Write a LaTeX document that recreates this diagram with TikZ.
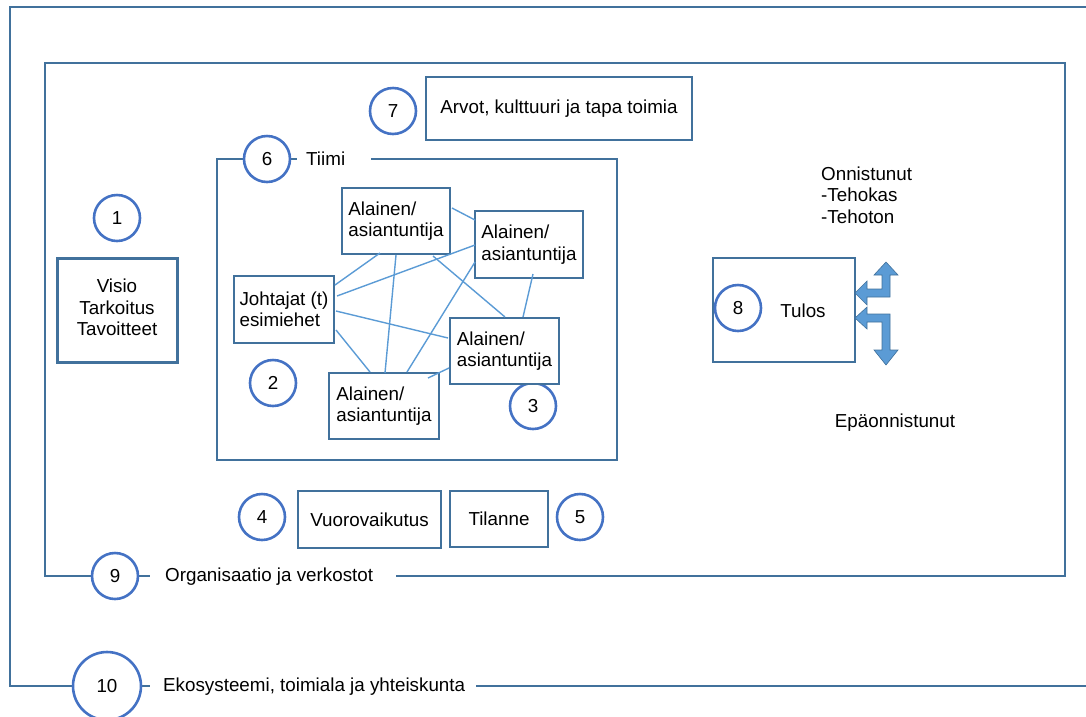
\documentclass[tikz,border=0pt]{standalone}
\usepackage{fontspec}
\setmainfont{Liberation Sans}
\definecolor{framec}{HTML}{41719C}
\definecolor{circc}{HTML}{4472C4}
\definecolor{netc}{HTML}{5B9BD5}
\definecolor{arrowf}{HTML}{5B9BD5}
\begin{document}
\begin{tikzpicture}[x=1pt,y=-1pt,
  font=\fontsize{18.8}{21.5}\selectfont,
  frame/.style={draw=framec, line width=2.8pt},
  numc/.style={circle, draw=circc, line width=2.6pt, fill=white, minimum size=46pt, inner sep=0pt},
  nbox/.style={draw=framec, line width=1.6pt, fill=white, inner sep=0pt, align=left},
  tbox/.style={draw=framec, line width=1.6pt, fill=white, inner sep=0pt, align=center},
  netline/.style={draw=netc, line width=1.4pt},
  bentarrow/.style={fill=arrowf, draw=framec, line width=0.6pt, line join=miter},
  plain/.style={inner sep=0pt}]
\useasboundingbox (0,0) rectangle (1086,716);

% frames
\draw[frame] (476,686) -- (1100,686);
\draw[frame] (1100,7) -- (10,7) -- (10,686) -- (150,686);
\draw[frame] (396,576) -- (1065,576) -- (1065,63) -- (45,63) -- (45,576) -- (150,576);
\draw[frame] (371,159) -- (617,159) -- (617,460) -- (217,460) -- (217,159) -- (297,159);

% numbered circles
\node[numc] (c1) at (117,218) {1};
\node[numc] (c2) at (273,383) {2};
\node[numc] (c3) at (533,406) {3};
\node[numc] (c4) at (262,517) {4};
\node[numc] (c5) at (580,517) {5};
\node[numc] (c6) at (267,159) {6};
\node[numc] (c7) at (393,111) {7};
\node[numc] (c9) at (115,576) {9};
\node[numc, minimum size=68pt] (c10) at (107,686) {10};

% labels on frames
\node[plain, anchor=west] (tiimi) at (306,159) {Tiimi};
\node[plain, anchor=west] (org) at (165,577) {Organisaatio ja verkostot};
\node[plain, anchor=west] (eko) at (163,687) {Ekosysteemi, toimiala ja yhteiskunta};

% boxes
\node[tbox, line width=3pt, minimum width=120pt, minimum height=104pt] (visio) at (117,310) {\raisebox{4pt}{\begin{tabular}{@{}c@{}}Visio\\Tarkoitus\\Tavoitteet\end{tabular}}};
\node[tbox, minimum width=266pt, minimum height=63pt] (arvot) at (559,108.5) {Arvot, kulttuuri ja tapa toimia};
\node[tbox, minimum width=143pt, minimum height=57pt] (vuoro) at (369.5,519.5) {Vuorovaikutus};
\node[tbox, minimum width=98pt, minimum height=56pt] (tilanne) at (499,519) {Tilanne};
\node[tbox, fill=none, line width=2.6pt, minimum width=142pt, minimum height=104pt] (tulos) at (784,310) {};
\node[plain] (tulostxt) at (803,311) {Tulos};
\node[numc] (c8) at (738,308) {8};

% team boxes
\node[nbox, minimum width=100pt, minimum height=67pt] (J) at (284,309.5) {Johtajat (t)\\esimiehet};
\node[nbox, minimum width=108pt, minimum height=66pt] (A1) at (396,221) {Alainen/\\asiantuntija};
\node[nbox, minimum width=108pt, minimum height=67pt] (A2) at (529,244.5) {Alainen/\\asiantuntija};
\node[nbox, minimum width=109pt, minimum height=66pt] (A3) at (504.5,351) {Alainen/\\asiantuntija};
\node[nbox, minimum width=110pt, minimum height=66pt] (A4) at (384,406) {Alainen/\\asiantuntija};

% network connectors
\draw[netline] ([shift={(56,-13)}]A1.center) -- ([shift={(-54,-24.5)}]A2.center);
\draw[netline] ([shift={(51,-24.5)}]J.center) -- ([shift={(-16,32)}]A1.center);
\draw[netline] ([shift={(53,-13.5)}]J.center) -- ([shift={(-54,0.5)}]A2.center);
\draw[netline] ([shift={(52,1.5)}]J.center) -- ([shift={(-56.5,-13)}]A3.center);
\draw[netline] ([shift={(52,20.5)}]J.center) -- ([shift={(-14,-34)}]A4.center);
\draw[netline] ([shift={(0,34)}]A1.center) -- ([shift={(1,-33)}]A4.center);
\draw[netline] ([shift={(37,35)}]A1.center) -- ([shift={(0.5,-34)}]A3.center);
\draw[netline] ([shift={(-54,17.5)}]A2.center) -- ([shift={(23,-34)}]A4.center);
\draw[netline] ([shift={(4,29.5)}]A2.center) -- ([shift={(18.5,-34)}]A3.center);
\draw[netline] ([shift={(-55.5,17)}]A3.center) -- ([shift={(44,-28)}]A4.center);

% bent arrows at Tulos
\draw[bentarrow] (855,293) -- (867,281) -- (867,289) -- (882,289) -- (882,275) -- (874,275)
  -- (886,262) -- (898,275) -- (890,275) -- (890,297) -- (867,297) -- (867,305) -- cycle;
\draw[bentarrow] (855,318) -- (867,307) -- (867,314) -- (890,314) -- (890,350) -- (898,350)
  -- (886,365) -- (874,350) -- (882,350) -- (882,322) -- (867,322) -- (867,329) -- cycle;

% outcome texts
\node[plain, anchor=west, align=left] (onn) at (821,195) {Onnistunut\\-Tehokas\\-Tehoton};
\node[plain] (epa) at (895,423) {Epäonnistunut};
\end{tikzpicture}
\end{document}
